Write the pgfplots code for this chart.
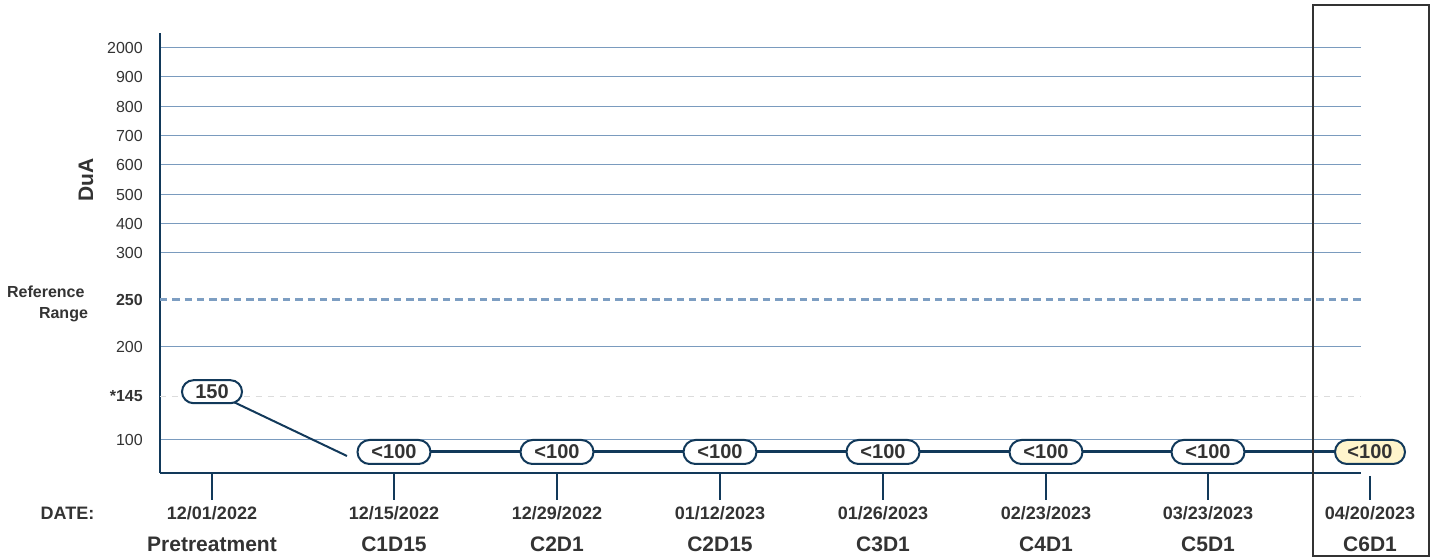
\documentclass[border=0pt]{standalone}
\usepackage{pgfplots}
\pgfplotsset{compat=1.18}
\usepackage{pgfplotstable}
\usepackage{fontspec}
\setmainfont{Liberation Sans}
\definecolor{navy}{HTML}{12395A}
\definecolor{gridblue}{HTML}{7A9BBE}
\definecolor{refblue}{HTML}{7D9EC2}
\definecolor{txt}{HTML}{333333}
\definecolor{lightdash}{HTML}{DCDCDC}
\definecolor{hl}{HTML}{FFF5CC}

% y is a display position (the chart's axis is not linear in DuA)
\pgfplotstableread{
x y lab
212 81.3 150
}\pretreat
\pgfplotstableread{
x y lab
394 21 <100
557 21 <100
720 21 <100
883 21 <100
1046 21 <100
1208 21 <100
}\onstudy
\pgfplotstableread{
x y lab
1370 21 <100
}\latest
\pgfplotstableread{
x y
394 21
557 21
720 21
883 21
1046 21
1208 21
1370 21
}\trend

\tikzset{
  ticklab/.style={anchor=base, align=center, text=txt, font=\fontsize{18}{32.4}\selectfont\bfseries},
  valbox/.style={anchor=center, draw=navy, line width=2pt, fill=white, text=txt,
    font=\fontsize{20}{22}\selectfont\bfseries, inner sep=0pt,
    minimum width=73pt, minimum height=24pt, rounded corners=12pt},
}

\begin{document}
\begin{tikzpicture}
\begin{axis}[
  x=1pt, y=1pt,
  xmin=160, xmax=1361, ymin=0, ymax=440,
  axis x line=bottom, axis y line=left,
  axis line style={navy, line width=1.7pt, -},
  clip=false,
  major tick length=0pt,
  tick style={draw=none},
  xtick={212,394,557,720,883,1046,1208},
  xticklabels={
    {12/01/2022\\{\fontsize{21}{32.4}\selectfont Pretreatment}},
    {12/15/2022\\{\fontsize{21}{32.4}\selectfont C1D15}},
    {12/29/2022\\{\fontsize{21}{32.4}\selectfont C2D1}},
    {01/12/2023\\{\fontsize{21}{32.4}\selectfont C2D15}},
    {01/26/2023\\{\fontsize{21}{32.4}\selectfont C3D1}},
    {02/23/2023\\{\fontsize{21}{32.4}\selectfont C4D1}},
    {03/23/2023\\{\fontsize{21}{32.4}\selectfont C5D1}}},
  xticklabel style={ticklab, yshift=-78.7pt},
  ytick={33,126,220,249,278,308,337,366,396,425},
  yticklabels={100,200,300,400,500,600,700,800,900,2000},
  extra y ticks={76.5,173},
  extra y tick labels={\textbf{*145},\textbf{250}},
  extra y tick style={grid=none},
  ymajorgrids,
  grid style={gridblue, line width=1pt},
  yticklabel style={anchor=east, inner sep=0pt, xshift=-17pt, text=txt, font=\fontsize{16}{19}\selectfont},
  ylabel={DuA},
  every axis y label/.style={at={(axis description cs:-0.0616,0.666)}, rotate=90, anchor=center,
    font=\fontsize{21}{24}\selectfont\bfseries, text=txt},
]
% reference lines
\addplot[refblue, line width=3pt, dash pattern=on 7.5pt off 4.8pt] coordinates {(160,173) (1361,173)};
\addplot[lightdash, line width=1pt, dash pattern=on 6pt off 6pt] coordinates {(160,76.5) (1361,76.5)};
% connector from pretreatment value
\addplot[navy, line width=2pt] coordinates {(212,81.3) (347,17)};
% on-study trend
\addplot[navy, line width=3pt] table[x=x,y=y] {\trend};
% value boxes
\addplot[draw=none, mark=none, nodes near coords, point meta=explicit symbolic,
  every node near coord/.append style={valbox, minimum width=60pt, minimum height=23pt, rounded corners=11.5pt}]
  table[x=x,y=y,meta=lab] {\pretreat};
\addplot[draw=none, mark=none, nodes near coords, point meta=explicit symbolic,
  every node near coord/.append style={valbox}]
  table[x=x,y=y,meta=lab] {\onstudy};
\addplot[draw=none, mark=none, nodes near coords, point meta=explicit symbolic,
  every node near coord/.append style={valbox, fill=hl, minimum width=70pt}]
  table[x=x,y=y,meta=lab] {\latest};
% x tick marks
\pgfplotsinvokeforeach{212,394,557,720,883,1046,1208}{
  \draw[navy, line width=2pt] (axis cs:#1,0) -- (axis cs:#1,-27);
}
\draw[navy, line width=2pt] (axis cs:1370,-3) -- (axis cs:1370,-27);
\node[ticklab] at (axis cs:1370,-78.7) {04/20/2023\\{\fontsize{21}{32.4}\selectfont C6D1}};
\node[ticklab] at (axis cs:67.5,-46.3) {DATE:};
\node[anchor=base, text=txt, font=\fontsize{16}{19}\selectfont\bfseries] at (axis cs:45.8,175.3) {Reference};
\node[anchor=base, text=txt, font=\fontsize{16}{19}\selectfont\bfseries] at (axis cs:63.5,154.7) {Range};
% highlight box around latest visit
\draw[txt, line width=2pt] (axis cs:1312.7,-83) rectangle (axis cs:1429,468);
\path (axis cs:0,-86) rectangle (axis cs:1437,473);
\end{axis}
\end{tikzpicture}
\end{document}
